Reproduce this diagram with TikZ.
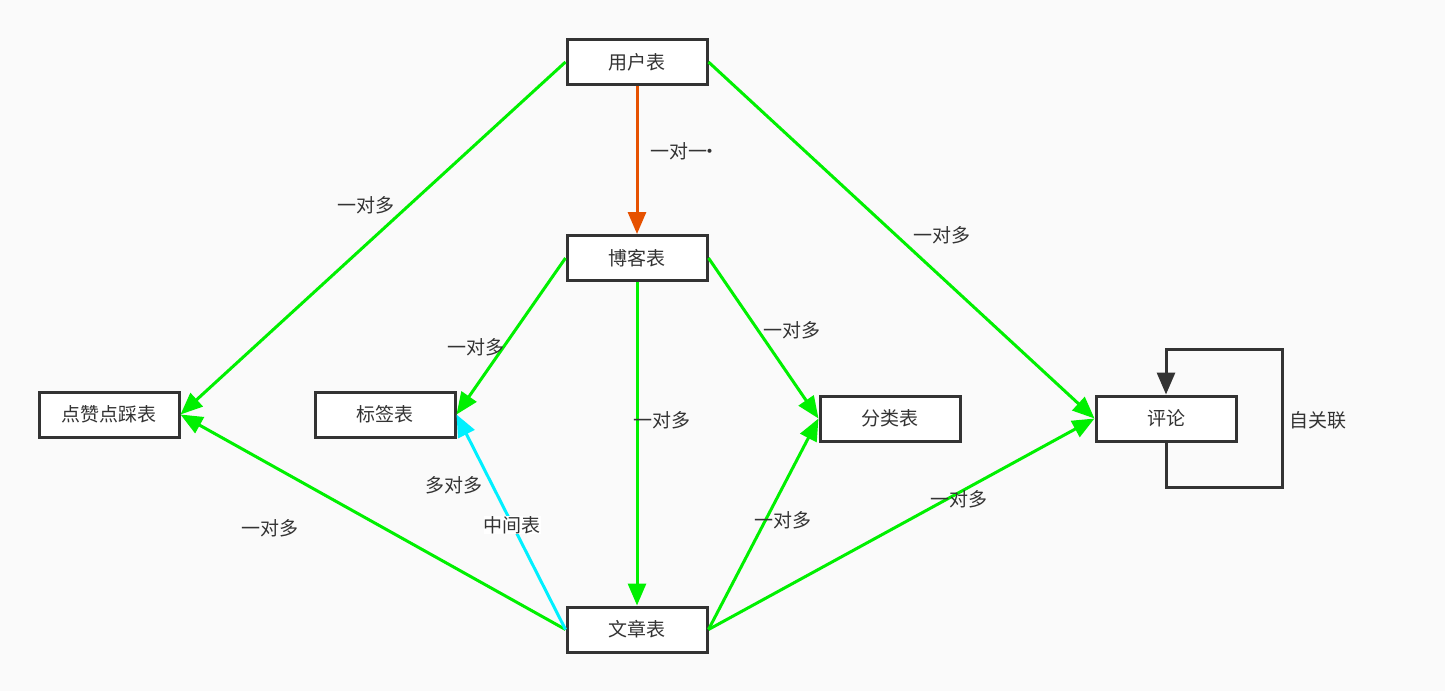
\documentclass[tikz,border=0pt]{standalone}
\usepackage{fontspec}
\setmainfont{Noto Sans CJK SC}
\usetikzlibrary{arrows.meta}
\definecolor{bg}{HTML}{FAFAFA}
\definecolor{dk}{HTML}{333333}
\definecolor{gr}{HTML}{00F000}
\definecolor{orng}{HTML}{E65100}
\definecolor{cy}{HTML}{00F0FF}
\definecolor{txt}{HTML}{333333}
\begin{document}
\begin{tikzpicture}[x=1pt,y=-1pt,
  tbl/.style={draw=dk,line width=3pt,fill=white,minimum width=140pt,minimum height=45pt,inner sep=0pt,font=\fontsize{19}{21}\selectfont,text=txt},
  lbl/.style={font=\fontsize{19}{21}\selectfont,text=txt,inner sep=1pt},
  conn/.style={line width=3pt,-{Triangle[length=22pt,width=18pt]}},
  g/.style={conn,draw=gr},
]
\fill[bg] (0,0) rectangle (1445,691);
\useasboundingbox (0,0) rectangle (1445,691);
\node[tbl] (user) at (637,62) {用户表};
\node[tbl] (blog) at (637,258) {博客表};
\node[tbl] (like) at (109,414.5) {点赞点踩表};
\node[tbl] (tag) at (385,414.5) {标签表};
\node[tbl] (cat) at (890,418.5) {分类表};
\node[tbl] (cmt) at (1166,418.5) {评论};
\node[tbl] (art) at (637,629.5) {文章表};

\draw[g] (user.west) -- (like.east);
\draw[conn,draw=orng] (user.south) -- (blog.north);
\draw[g] (user.east) -- (cmt.west);
\draw[g] (blog.west) -- (tag.east);
\draw[g] (blog.south) -- (art.north);
\draw[g] (blog.east) -- (cat.west);
\draw[g] (art.west) -- (like.east);
\draw[conn,draw=cy] (art.west) -- (tag.east);
\draw[g] (art.east) -- (cat.west);
\draw[g] (art.east) -- (cmt.west);
\draw[conn,draw=dk] (cmt.south) -- ++(0,45) -| (1282,349) -| (cmt.north);

\node[lbl] (l1) at (366,205) {一对多};
\node[lbl] (l2) at (685,151) {一对一\kern-0.35em·};
\node[lbl] (l3) at (942,235) {一对多};
\node[lbl] (l4) at (476,347) {一对多};
\node[lbl] (l5) at (662,420) {一对多};
\node[lbl] (l6) at (792,330) {一对多};
\node[lbl] (l7) at (270,528) {一对多};
\node[lbl] (l8) at (454,485) {多对多};
\node[lbl,fill=white,inner sep=0pt] (l9) at (512,525) {中间表};
\node[lbl] (l10) at (783,520) {一对多};
\node[lbl] (l11) at (959,499) {一对多};
\node[lbl] (l12) at (1318,420) {自关联};
\end{tikzpicture}
\end{document}
